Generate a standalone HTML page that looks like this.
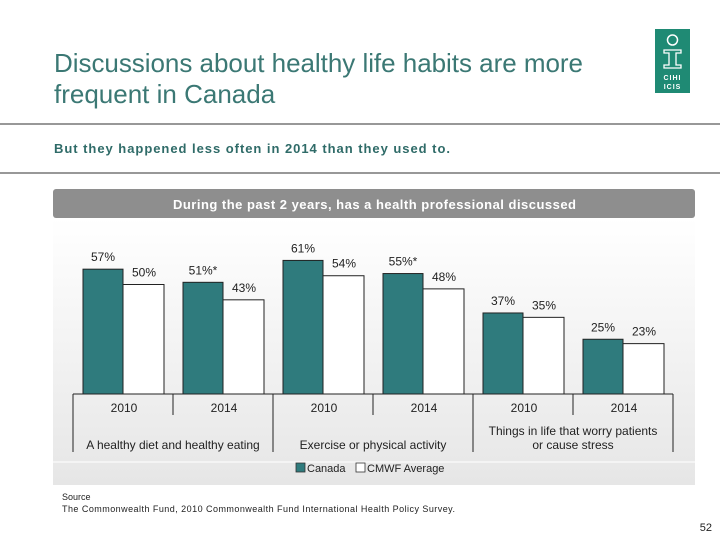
<!DOCTYPE html>
<html><head><meta charset="utf-8"><style>
body{margin:0;width:720px;height:540px;background:#fff;overflow:hidden;font-family:"Liberation Sans",sans-serif}
svg{display:block}
</style></head><body>
<svg width="720" height="540" viewBox="0 0 720 540">
<defs><linearGradient id="pg" x1="0" y1="0" x2="0" y2="1"><stop offset="0" stop-color="#ffffff"/><stop offset="1" stop-color="#e6e6e6"/></linearGradient></defs>
<text x="54" y="72" font-size="26" fill="#3b7874" textLength="529">Discussions about healthy life habits are more</text>
<text x="54" y="103" font-size="26" fill="#3b7874">frequent in Canada</text>
<g>
<rect x="655" y="29" width="35" height="64" fill="#1f8a74"/>
<circle cx="672.5" cy="40" r="5" fill="none" stroke="#fff" stroke-width="1.5"/>
<path d="M664 50h17v3h-5v12h5v3h-17v-3h5v-12h-5z" fill="none" stroke="#fff" stroke-width="1.3"/>
<text x="672.5" y="80" font-size="7" font-weight="bold" fill="#fff" text-anchor="middle" letter-spacing="1">CIHI</text>
<text x="672.5" y="89" font-size="7" font-weight="bold" fill="#fff" text-anchor="middle" letter-spacing="1">ICIS</text>
</g>
<line x1="0" y1="124" x2="720" y2="124" stroke="#777" stroke-width="1.5"/>
<text x="54" y="153" font-size="13" font-weight="bold" fill="#2f6b68" textLength="396">But they happened less often in 2014 than they used to.</text>
<line x1="0" y1="173" x2="720" y2="173" stroke="#777" stroke-width="1.5"/>
<rect x="53" y="218" width="642" height="267" fill="url(#pg)"/>
<rect x="53" y="189" width="642" height="29" rx="3" fill="#8e8e8e"/>
<text x="173" y="209" font-size="13" font-weight="bold" fill="#fff" textLength="403">During the past 2 years, has a health professional discussed</text>
<g id="chart"></g>
<line x1="53" y1="462" x2="695" y2="462" stroke="#fff" stroke-width="1"/>
<g>
<rect x="296" y="463" width="9" height="9" fill="#2f7b7d" stroke="#333" stroke-width="0.8"/>
<text x="307" y="472" font-size="11" fill="#222">Canada</text>
<rect x="356" y="463" width="9" height="9" fill="#fff" stroke="#333" stroke-width="0.8"/>
<text x="367" y="472" font-size="11" fill="#222">CMWF Average</text>
</g>
<text x="62" y="500" font-size="9" fill="#222">Source</text>
<text x="62" y="512" font-size="9" fill="#222" textLength="393">The Commonwealth Fund, 2010 Commonwealth Fund International Health Policy Survey.</text>
<text x="712" y="531" font-size="11" fill="#222" text-anchor="end">52</text>
</svg>
<script>
const years = ["2010","2014","2010","2014","2010","2014"];
const canada = [57,51,61,55,37,25];
const cmwf = [50,43,54,48,35,23];
const canadaLabels = ["57%","51%*","61%","55%*","37%","25%"];
const cmwfLabels = ["50%","43%","54%","48%","35%","23%"];
const categories = [["A healthy diet and healthy eating"],["Exercise or physical activity"],["Things in life that worry patients","or cause stress"]];
const NS="http://www.w3.org/2000/svg";
const g=document.getElementById('chart');
const base=394, k=2.19;
const y=v=>base-v*k;
const x=i=>83+i*100;
function mk(t,a,p){const e=document.createElementNS(NS,t);for(const n in a)e.setAttribute(n,a[n]);(p||g).appendChild(e);return e;}
years.forEach((yr,i)=>{
 let b=mk('rect',{x:x(i),y:y(canada[i]),width:40,height:canada[i]*k,fill:'#2f7b7d',stroke:'#222','stroke-width':1});
 
 
 let c=mk('rect',{x:x(i)+40,y:y(cmwf[i]),width:41,height:cmwf[i]*k,fill:'#fff',stroke:'#222','stroke-width':1});
 
 
 let t=mk('text',{x:x(i)+20,y:y(canada[i])-8,'font-size':12,fill:'#222','text-anchor':'middle'});t.textContent=canadaLabels[i];
 
 
 let u=mk('text',{x:x(i)+61,y:y(cmwf[i])-8,'font-size':12,fill:'#222','text-anchor':'middle'});u.textContent=cmwfLabels[i];
 
 
 let yl=mk('text',{x:x(i)+41,y:412,'font-size':12,fill:'#222','text-anchor':'middle'});yl.textContent=yr;
 
 
});
mk('line',{x1:73,y1:base,x2:673,y2:base,stroke:'#222','stroke-width':1});
for(let j=0;j<=6;j++){const xx=73+j*100;mk('line',{x1:xx,y1:base,x2:xx,y2:j%2==0?452:415,stroke:'#222','stroke-width':1});}
categories.forEach((lines,j)=>{
 lines.forEach((l,m)=>{
  let t=mk('text',{x:173+j*200,y:(lines.length>1?435:449)+m*14,'font-size':12,fill:'#222','text-anchor':'middle'});t.textContent=l;
  
  
 });
});
</script>
</body></html>
